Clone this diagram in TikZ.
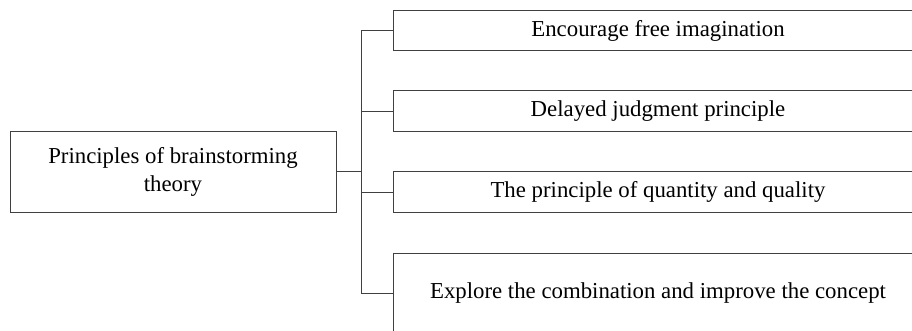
\documentclass[tikz,border=0pt]{standalone}
\usepackage{fontspec}
\setmainfont{Liberation Serif}
\begin{document}
\begin{tikzpicture}[x=1pt,y=-1pt,
    box/.style={draw=black!75, line width=1pt, align=center, inner sep=0pt,
      font=\fontsize{22.8}{28}\selectfont},
    link/.style={draw=black!75, line width=1pt}]
    \useasboundingbox (0,0) rectangle (912,331);

    % Nodes
    \node[box, minimum width=326pt, minimum height=80pt] (theory) at (173,172) {Principles of brainstorming\\theory};
    \node[box, minimum width=530pt, minimum height=40pt] (principle1) at (658,31) {Encourage free imagination};
    \node[box, minimum width=530pt, minimum height=41pt] (principle2) at (658,111.5) {Delayed judgment principle};
    \node[box, minimum width=530pt, minimum height=40pt] (principle3) at (658,192) {The principle of quantity and quality};
    \node[box, minimum width=530pt, minimum height=80pt] (principle4) at (658,293) {Explore the combination and improve the concept};

    % Split point
    \coordinate (split) at (361,172);

    % Connection
    \draw[link] (theory.east) -- (split);
    \draw[link] (split) |- (principle1.west);
    \draw[link] (split) |- (principle2.west);
    \draw[link] (split) |- (principle3.west);
    \draw[link] (split) |- (principle4.west);
\end{tikzpicture}
\end{document}
